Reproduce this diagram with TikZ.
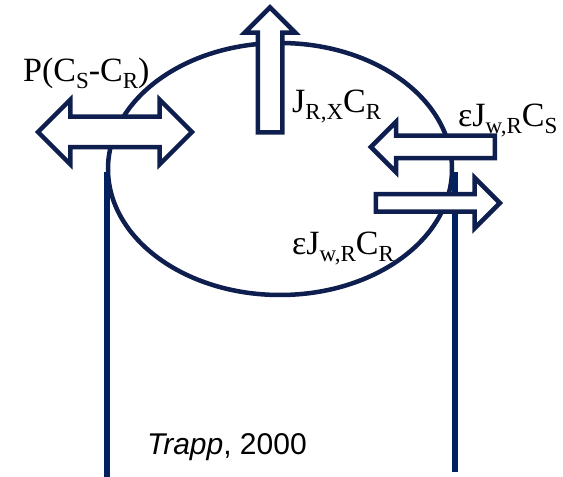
\documentclass[tikz,border=0pt]{standalone}
\usepackage{fontspec}
\setmainfont{Liberation Serif}
\setsansfont{Liberation Sans}
\usetikzlibrary{shapes.geometric,shapes.arrows}
\definecolor{navy}{RGB}{0,32,96}
\definecolor{darknavy}{RGB}{14,30,78}
\newcommand{\sbs}[1]{\raisebox{-7pt}{\fontsize{23}{23}\selectfont #1}}

\begin{document}
\begin{tikzpicture}[x=1pt,y=1pt,
    flux/.style={draw=darknavy, line width=4.5pt, fill=white, inner xsep=0pt},
    lbl/.style={anchor=base west, inner sep=0pt, font=\fontsize{34}{36}\selectfont}]
  \useasboundingbox (0,0) rectangle (563,477);

  % cell and the two walls
  \node[ellipse, draw=darknavy, line width=4.5pt, inner sep=0pt,
        minimum width=344pt, minimum height=252pt] (cell) at (280,308) {};
  \coordinate (wallLtop) at (107,305);
  \coordinate (wallLbot) at (107,0);
  \coordinate (wallRtop) at (455,305);
  \coordinate (wallRbot) at (455,5);
  \draw[navy, line width=6pt] (wallLtop) -- (wallLbot);
  \draw[navy, line width=6pt] (wallRtop) -- (wallRbot);

  % fluxes
  \node[flux, double arrow, inner ysep=13pt, double arrow head extend=17pt,
        minimum height=154pt] (perm) at (115,345) {};
  \node[flux, single arrow, shape border rotate=90, inner xsep=10pt, inner ysep=0pt,
        single arrow head extend=13pt, minimum height=125pt] (jrx) at (270,401) {};
  \node[flux, single arrow, shape border rotate=180, inner ysep=9pt,
        single arrow head extend=14pt, minimum height=124pt] (jin) at (438.5,330) {};
  \node[flux, single arrow, inner ysep=6.5pt,
        single arrow head extend=16.5pt, minimum height=124pt] (jout) at (433.5,274) {};

  \node[lbl] (permlbl) at (23,395) {P(C\sbs{S}-C\sbs{R})};
  \node[lbl] (jrxlbl) at (292,364) {J\sbs{R,X}C\sbs{R}};
  \node[lbl] (jinlbl) at (458,350) {εJ\sbs{w,R}C\sbs{S}};
  \node[lbl] (joutlbl) at (292,222) {εJ\sbs{w,R}C\sbs{R}};

  \node[anchor=base west, inner sep=0pt, font=\sffamily\fontsize{30}{32}\selectfont]
    (cite) at (147,22) {\textit{Trapp}, 2000};
\end{tikzpicture}
\end{document}
